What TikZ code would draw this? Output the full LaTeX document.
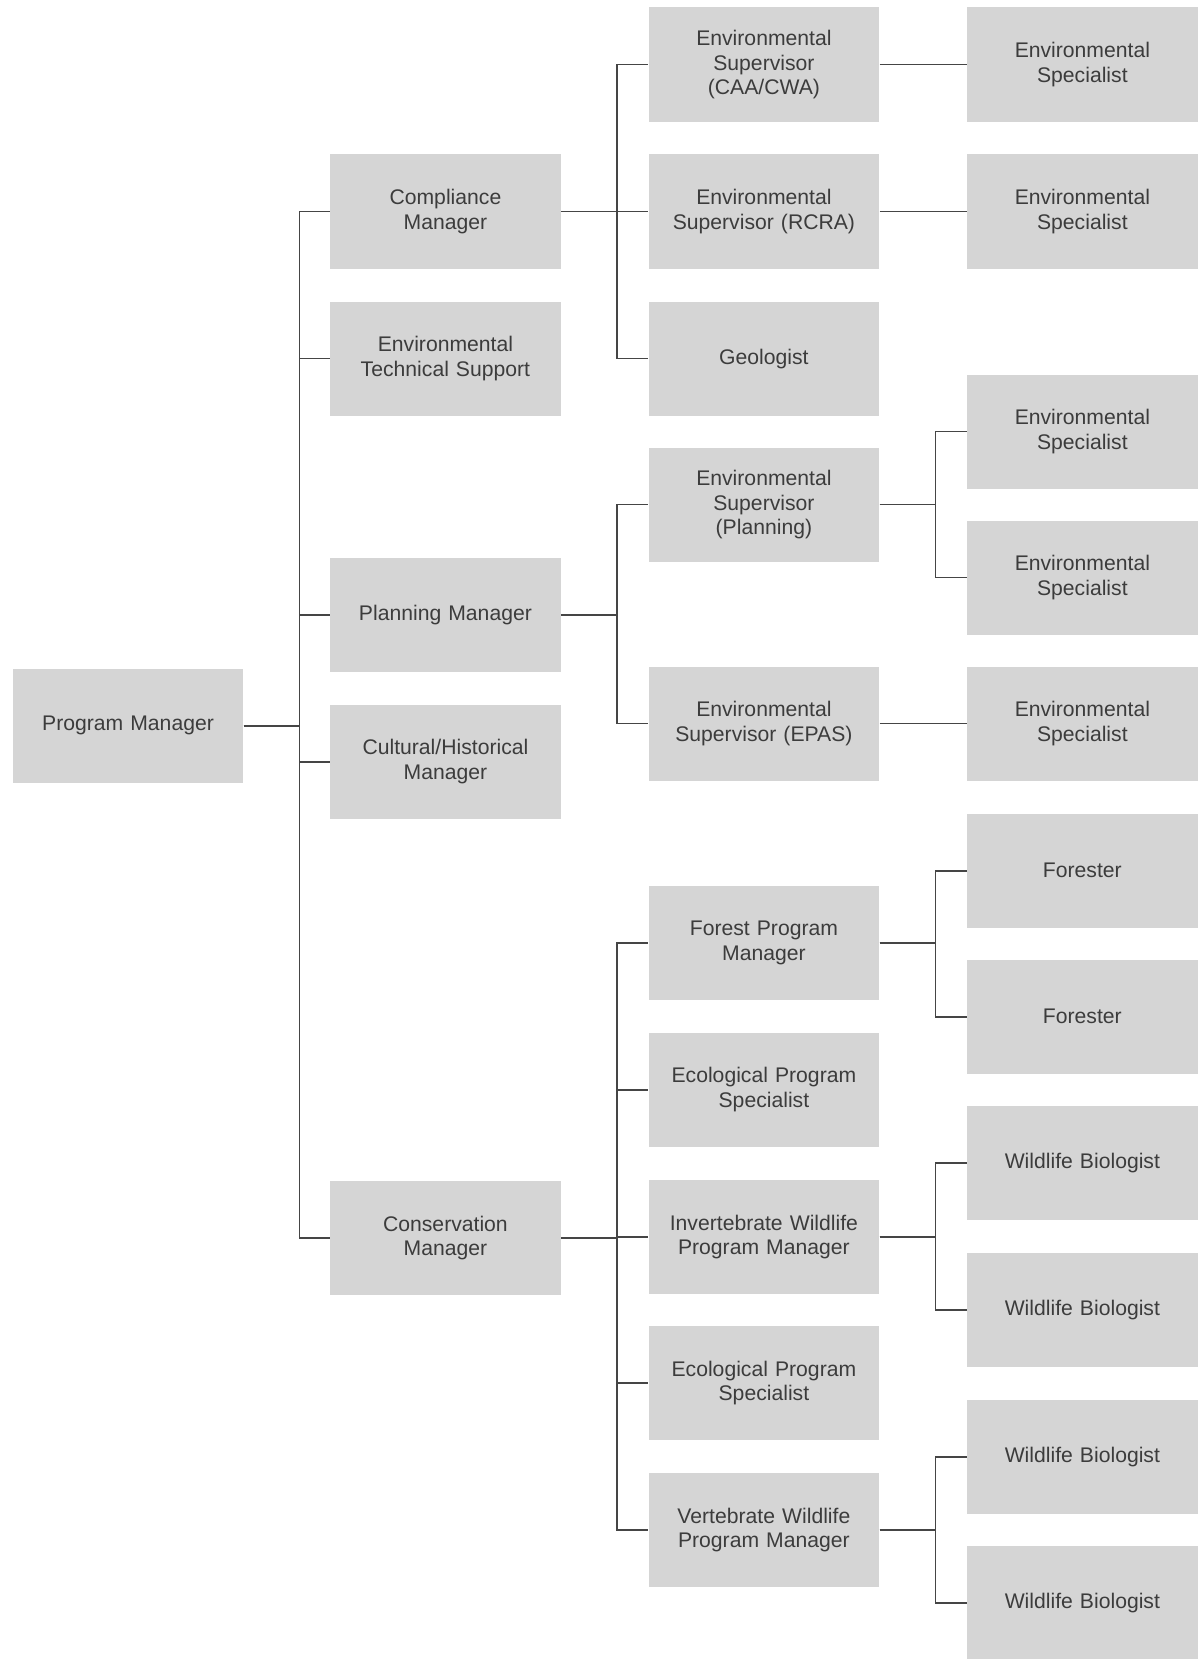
\documentclass[tikz,border=0pt]{standalone}
\usepackage{fontspec}
\setmainfont{Liberation Sans}
\definecolor{boxgray}{HTML}{D5D5D5}
\definecolor{txtgray}{HTML}{3C3C3C}
\definecolor{linegray}{HTML}{454545}
\begin{document}
\begin{tikzpicture}[x=0.5pt,y=-0.5pt,
  box/.style={rectangle, fill=boxgray, minimum width=109pt, minimum height=54pt,
    inner sep=0pt, align=center, text width=104pt, text=txtgray,
    font=\fontsize{10pt}{11.6pt}\selectfont},
  conn/.style={draw=linegray, line width=0.75pt}]
\useasboundingbox (0,0) rectangle (1132,1568);
% column 1
\node[box] (pm) at (121,686) {Program Manager};
% column 2
\node[box] (cm) at (421,200) {Compliance\\Manager};
\node[box] (ets) at (421,339) {Environmental\\Technical Support};
\node[box] (plm) at (421,581) {Planning Manager};
\node[box] (chm) at (421,720) {Cultural/Historical\\Manager};
\node[box] (com) at (421,1170) {Conservation\\Manager};
% column 3
\node[box] (caa) at (722,61) {Environmental\\Supervisor\\(CAA/CWA)};
\node[box] (rcra) at (722,200) {Environmental\\Supervisor (RCRA)};
\node[box] (geo) at (722,339) {Geologist};
\node[box] (spl) at (722,477) {Environmental\\Supervisor\\(Planning)};
\node[box] (epas) at (722,684) {Environmental\\Supervisor (EPAS)};
\node[box] (fpm) at (722,891) {Forest Program\\Manager};
\node[box] (eps1) at (722,1030) {Ecological Program\\Specialist};
\node[box] (iwp) at (722,1169) {Invertebrate Wildlife\\Program Manager};
\node[box] (eps2) at (722,1307) {Ecological Program\\Specialist};
\node[box] (vwp) at (722,1446) {Vertebrate Wildlife\\Program Manager};
% column 4
\node[box] (es1) at (1023,61) {Environmental\\Specialist};
\node[box] (es2) at (1023,200) {Environmental\\Specialist};
\node[box] (es3) at (1023,408) {Environmental\\Specialist};
\node[box] (es4) at (1023,546) {Environmental\\Specialist};
\node[box] (es5) at (1023,684) {Environmental\\Specialist};
\node[box] (fo1) at (1023,823) {Forester};
\node[box] (fo2) at (1023,961) {Forester};
\node[box] (wb1) at (1023,1099) {Wildlife Biologist};
\node[box] (wb2) at (1023,1238) {Wildlife Biologist};
\node[box] (wb3) at (1023,1377) {Wildlife Biologist};
\node[box] (wb4) at (1023,1515) {Wildlife Biologist};
% bus coordinates
\coordinate (b1) at (283,686);
\coordinate (bc) at (583,200);
\coordinate (bp) at (583,581);
\coordinate (bk) at (583,1170);
\coordinate (bs) at (884,477);
\coordinate (bf) at (884,891);
\coordinate (bi) at (884,1169);
\coordinate (bv) at (884,1446);
% connectors
\foreach \c in {cm,ets,plm,chm,com} \draw[conn] (pm.east) -- (b1) |- (\c.west);
\foreach \c in {caa,rcra,geo} \draw[conn] (cm.east) -- (bc) |- (\c.west);
\foreach \c in {spl,epas} \draw[conn] (plm.east) -- (bp) |- (\c.west);
\foreach \c in {fpm,eps1,iwp,eps2,vwp} \draw[conn] (com.east) -- (bk) |- (\c.west);
\draw[conn] (caa.east) -- (es1.west);
\draw[conn] (rcra.east) -- (es2.west);
\draw[conn] (epas.east) -- (es5.west);
\foreach \c in {es3,es4} \draw[conn] (spl.east) -- (bs) |- (\c.west);
\foreach \c in {fo1,fo2} \draw[conn] (fpm.east) -- (bf) |- (\c.west);
\foreach \c in {wb1,wb2} \draw[conn] (iwp.east) -- (bi) |- (\c.west);
\foreach \c in {wb3,wb4} \draw[conn] (vwp.east) -- (bv) |- (\c.west);
\end{tikzpicture}
\end{document}
